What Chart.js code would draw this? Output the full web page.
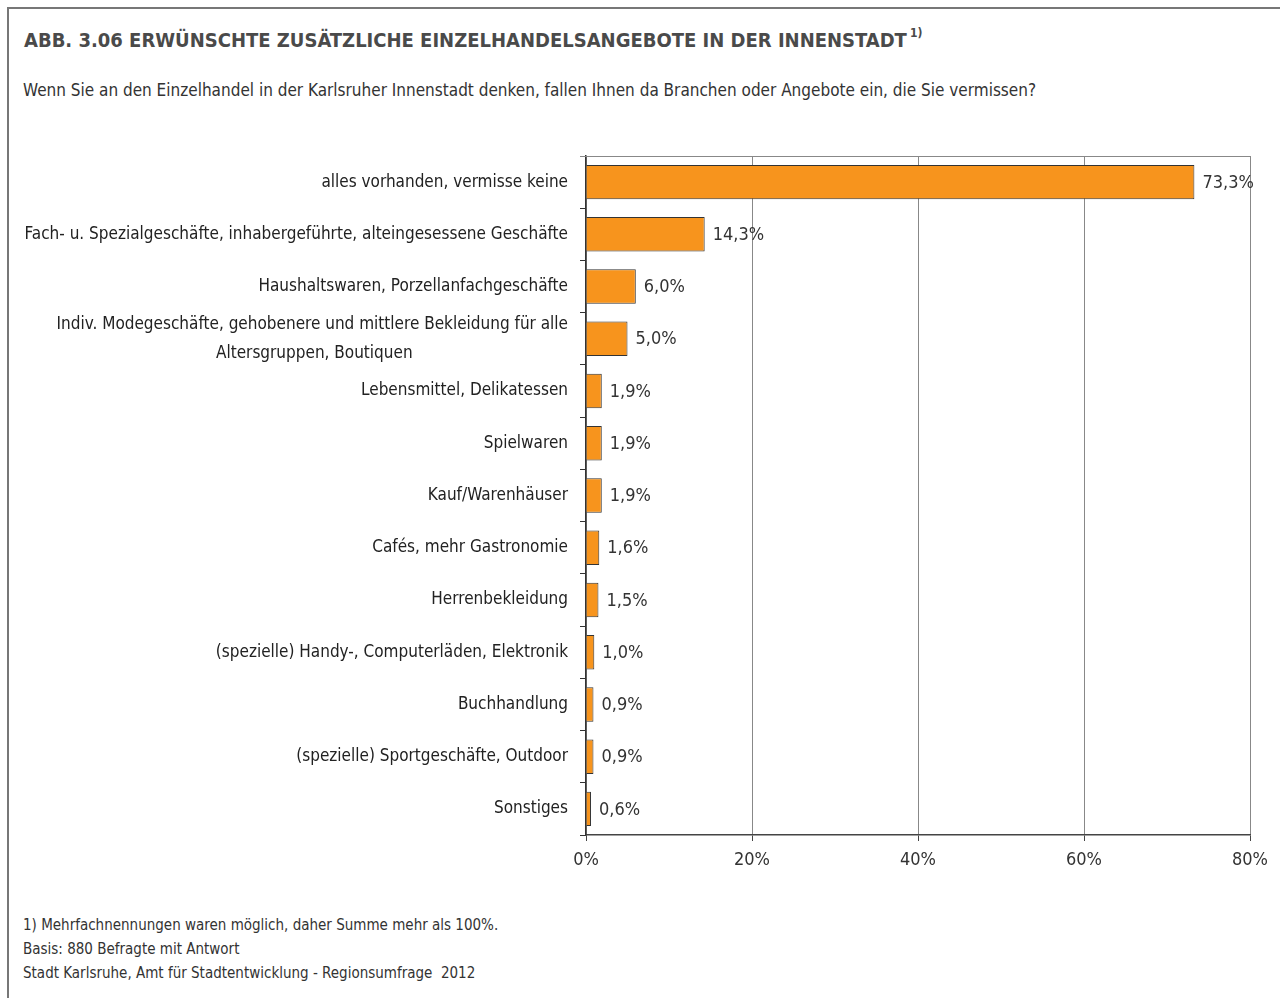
<!DOCTYPE html>
<html>
<head>
<meta charset="utf-8">
<script src="https://cdn.jsdelivr.net/npm/chart.js@4"></script>
<style>
  body { margin: 0; background: #fff; font-family: "DejaVu Sans Condensed", sans-serif; color: #333; }
  #frame { position: absolute; left: 7px; top: 7px; width: 1273px; height: 991px; border-left: 2px solid #777; border-top: 2px solid #777; }
  #title { position: absolute; left: 24px; top: 28px; font-size: 20px; font-weight: bold; color: #4a4a4a; white-space: nowrap; }
  #title sup { font-size: 12px; position: relative; top: -2px; margin-left: 3px; }
  #subtitle { position: absolute; left: 23px; top: 80px; font-size: 17px; color: #333; white-space: nowrap; }
  #foot { position: absolute; left: 23px; top: 913px; font-size: 15px; line-height: 24px; color: #333; }
  #wrap { position: absolute; left: 0; top: 0; width: 1280px; height: 998px; }
</style>
</head>
<body>
<div id="frame"></div>
<div id="title">ABB. 3.06 ERWÜNSCHTE ZUSÄTZLICHE EINZELHANDELSANGEBOTE IN DER INNENSTADT<sup>1)</sup></div>
<div id="subtitle">Wenn Sie an den Einzelhandel in der Karlsruher Innenstadt denken, fallen Ihnen da Branchen oder Angebote ein, die Sie vermissen?</div>
<div id="foot">1) Mehrfachnennungen waren möglich, daher Summe mehr als 100%.<br>Basis: 880 Befragte mit Antwort<br>Stadt Karlsruhe, Amt für Stadtentwicklung - Regionsumfrage&nbsp; 2012</div>
<div id="wrap"><canvas id="chart" width="1280" height="998"></canvas></div>
<script>
const categories = [
  "alles vorhanden, vermisse keine",
  "Fach- u. Spezialgeschäfte, inhabergeführte, alteingesessene Geschäfte",
  "Haushaltswaren, Porzellanfachgeschäfte",
  ["Indiv. Modegeschäfte, gehobenere und mittlere Bekleidung für alle", "Altersgruppen, Boutiquen"],
  "Lebensmittel, Delikatessen",
  "Spielwaren",
  "Kauf/Warenhäuser",
  "Cafés, mehr Gastronomie",
  "Herrenbekleidung",
  "(spezielle) Handy-, Computerläden, Elektronik",
  "Buchhandlung",
  "(spezielle) Sportgeschäfte, Outdoor",
  "Sonstiges"
];
const shares = [73.3, 14.3, 6.0, 5.0, 1.9, 1.9, 1.9, 1.6, 1.5, 1.0, 0.9, 0.9, 0.6];
const xTicks = [0, 20, 40, 60, 80];

const fontFamily = '"DejaVu Sans Condensed", sans-serif';
const labelFont = "17px " + fontFamily;
const fmt = (v) => v.toFixed(1).replace(".", ",") + "%";

// centre the lines of a wrapped label by padding the short ones with spaces
const measure = document.createElement("canvas").getContext("2d");
function centreLines(lines) {
  measure.font = labelFont;
  const widths = lines.map((l) => measure.measureText(l).width);
  const maxW = Math.max(...widths);
  const sp = measure.measureText(" ").width;
  return lines.map((l, i) => l + " ".repeat(Math.round((maxW - widths[i]) / 2 / sp)));
}

// value labels right of each bar
const valueLabels = {
  id: "valueLabels",
  afterDatasetsDraw(chart) {
    const ctx = chart.ctx;
    const meta = chart.getDatasetMeta(0);
    ctx.save();
    ctx.font = "18px " + fontFamily;
    ctx.fillStyle = "#333";
    ctx.textBaseline = "middle";
    meta.data.forEach((bar, i) => {
      ctx.fillText(fmt(shares[i]), bar.x + 8, bar.y + 1);
    });
    ctx.restore();
  }
};

// top edge of the plot area
const topLine = {
  id: "topLine",
  beforeDatasetsDraw(chart) {
    const { ctx, chartArea } = chart;
    ctx.save();
    ctx.strokeStyle = "#888";
    ctx.lineWidth = 1;
    ctx.beginPath();
    ctx.moveTo(chartArea.left - 6, chartArea.top + 0.5);
    ctx.lineTo(chartArea.right, chartArea.top + 0.5);
    ctx.stroke();
    ctx.restore();
  }
};

new Chart(document.getElementById("chart"), {
  type: "bar",
  data: {
    labels: categories,
    datasets: [{
      data: shares,
      backgroundColor: "#F7941D",
      borderColor: "#333",
      borderWidth: 1,
      barPercentage: 0.66,
      categoryPercentage: 1
    }]
  },
  options: {
    indexAxis: "y",
    responsive: false,
    animation: false,
    layout: { padding: { top: 156, right: 30, bottom: 113, left: 0 } },
    plugins: { legend: { display: false }, tooltip: { enabled: false } },
    scales: {
      x: {
        min: 0, max: 80,
        afterBuildTicks: (s) => { s.ticks = xTicks.map((v) => ({ value: v })); },
        afterFit: (s) => { s.height = 50; },
        grid: { color: "#888", lineWidth: 1, tickLength: 6, tickColor: "#444" },
        border: { color: "#444", width: 1.5 },
        ticks: { color: "#333", font: { size: 18, family: fontFamily }, padding: 9, callback: (v) => v + "%" }
      },
      y: {
        afterFit: (s) => { s.width = 586; },
        grid: { offset: true, drawOnChartArea: false, tickLength: 6, tickColor: "#333" },
        border: { color: "#333", width: 1.5 },
        ticks: {
          autoSkip: false, color: "#222", padding: 12,
          font: { size: 17, family: fontFamily, lineHeight: 1.7 },
          callback: (v, i) => Array.isArray(categories[i]) ? centreLines(categories[i]) : categories[i]
        }
      }
    }
  },
  plugins: [valueLabels, topLine]
});
</script>
</body>
</html>
